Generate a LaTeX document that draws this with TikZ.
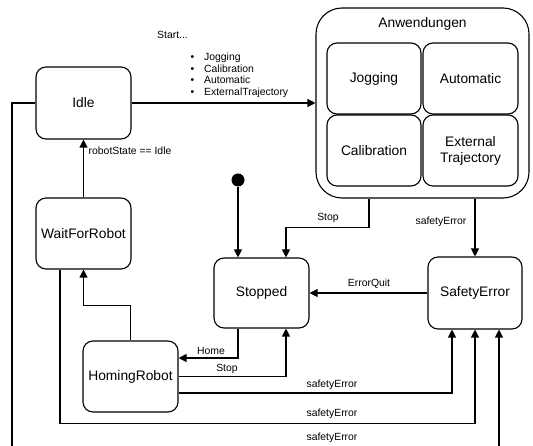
\documentclass[tikz,border=0pt]{standalone}
\usepackage{fontspec}
\setmainfont{Liberation Sans}
\usetikzlibrary{arrows.meta}

\begin{document}
\begin{tikzpicture}[x=1pt,y=-1pt,
  state/.style={draw, rounded corners=10pt, line width=1.1pt,
    font=\fontsize{13.8}{16}\selectfont, align=center, inner sep=0pt},
  lbl/.style={font=\fontsize{10.4}{11.7}\selectfont, inner sep=0pt},
  arr/.style={line width=1.1pt, -{Triangle[length=8pt,width=8pt]}}]

\clip (0,0) rectangle (533,446);

% states
\node[state, minimum width=95, minimum height=72] (idle) at (83.5,103) {Idle};
\node[state, minimum width=95, minimum height=71] (wait) at (83.5,233.5) {WaitForRobot};
\node[state, minimum width=95, minimum height=71] (homing) at (130.5,376.5) {HomingRobot};
\node[state, minimum width=95, minimum height=70] (stopped) at (261.5,293) {Stopped};
\node[state, minimum width=94, minimum height=72] (safety) at (475,293) {SafetyError};

% composite state with its sub-states
\node[state, rounded corners=26pt, minimum width=213, minimum height=190] (anw) at (422.5,103) {};
\node[font=\fontsize{13.8}{16}\selectfont, inner sep=0pt] (anwtitle) at (422.5,24) {Anwendungen};
\node[state, minimum width=94, minimum height=71] (jog) at (374,78.5) {Jogging};
\node[state, minimum width=95, minimum height=71] (auto) at (470.5,78.5) {Automatic};
\node[state, minimum width=94, minimum height=71] (calib) at (374,150.5) {Calibration};
\node[state, minimum width=95, minimum height=71] (ext) at (470.5,150.5) {External\\Trajectory};

% initial state
\node[circle, fill, minimum size=13, inner sep=0pt] (init) at (238,180) {};

% transitions
\draw[arr] (idle.east) -- (anw.west);
\draw[arr] (wait.north) -- (idle.south);
\draw[arr] (homing.north) |- ([yshift=-36pt]wait.south) -- (wait.south);
\draw[arr] (init) -- (init |- stopped.north);
\draw[arr] ([xshift=-53.5pt]anw.south) |- ([xshift=24.5pt,yshift=30pt]stopped.north) -- ([xshift=24.5pt]stopped.north);
\draw[arr] (safety.north |- anw.south) -- (safety.north);
\draw[arr] (safety.west) -- (stopped.east);
\draw[arr] (stopped.south -| init) |- ([yshift=18.5pt]homing.east);
\draw[arr] (homing.east) -| ([xshift=24.5pt]stopped.south);
\draw[arr] ([yshift=-16.5pt]homing.east) -| ([xshift=-23pt]safety.south);
\draw[arr] ([xshift=-23.5pt]wait.south) |- ([yshift=-94pt]safety.south) -- (safety.south);
\draw[arr] (idle.west) -- ++(-23.5,0) |- ([xshift=24pt,yshift=-140pt]safety.south) -- ([xshift=24pt]safety.south);

% transition labels
\node[lbl, anchor=west] (lstart) at (157,35) {Start...};
\node[lbl, anchor=base west, align=left] (llist) at (190.5,95.7)
  {\makebox[13.5pt][l]{\textbullet}Jogging\\
   \makebox[13.5pt][l]{\textbullet}Calibration\\
   \makebox[13.5pt][l]{\textbullet}Automatic\\
   \makebox[13.5pt][l]{\textbullet}ExternalTrajectory};
\node[lbl, anchor=west] (lrobot) at (88.5,151) {robotState == Idle};
\node[lbl] (lstop1) at (328,218) {Stop};
\node[lbl] (lsafe1) at (441,222) {safetyError};
\node[lbl] (lquit) at (369,284) {ErrorQuit};
\node[lbl] (lhome) at (211,351) {Home};
\node[lbl] (lstop2) at (227,369) {Stop};
\node[lbl] (lsafe2) at (332,385) {safetyError};
\node[lbl] (lsafe3) at (332,414) {safetyError};
\node[lbl] (lsafe4) at (332,438) {safetyError};
\end{tikzpicture}
\end{document}
